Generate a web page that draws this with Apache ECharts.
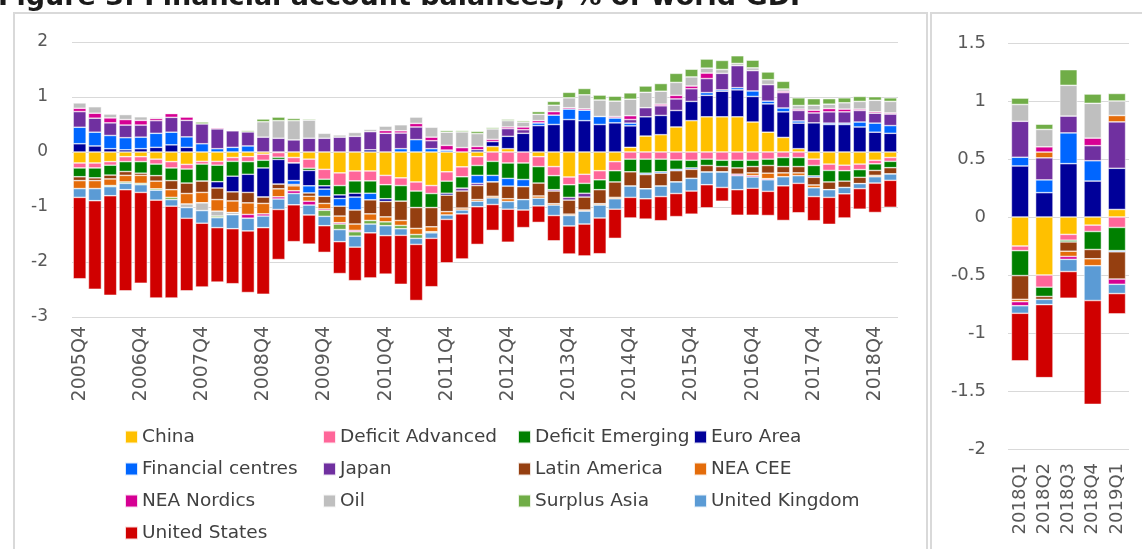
<!DOCTYPE html>
<html><head><meta charset="utf-8">
<script src="https://cdn.jsdelivr.net/npm/echarts@6/dist/echarts.min.js"></script>
<style>html,body{margin:0;padding:0;background:#fff}#c{width:1142px;height:549px}</style>
</head><body><div id="c"></div>
<script>
const quarters = ['2005Q4','2006Q1','2006Q2','2006Q3','2006Q4','2007Q1','2007Q2','2007Q3','2007Q4','2008Q1','2008Q2','2008Q3','2008Q4','2009Q1','2009Q2','2009Q3','2009Q4','2010Q1','2010Q2','2010Q3','2010Q4','2011Q1','2011Q2','2011Q3','2011Q4','2012Q1','2012Q2','2012Q3','2012Q4','2013Q1','2013Q2','2013Q3','2013Q4','2014Q1','2014Q2','2014Q3','2014Q4','2015Q1','2015Q2','2015Q3','2015Q4','2016Q1','2016Q2','2016Q3','2016Q4','2017Q1','2017Q2','2017Q3','2017Q4','2018Q1','2018Q2','2018Q3','2018Q4','2019Q1'];
const recentQuarters = ['2018Q1','2018Q2','2018Q3','2018Q4','2019Q1'];
const leftTicks = [-3,-2,-1,0,1,2];
const rightTicks = [-2,-1.5,-1,-0.5,0,0.5,1,1.5];

const china = [-0.20,-0.20,-0.175,-0.085,-0.085,-0.13,-0.175,-0.225,-0.17,-0.17,-0.10,-0.085,-0.04,-0.01,-0.10,-0.13,-0.315,-0.38,-0.345,-0.345,-0.425,-0.47,-0.545,-0.61,-0.36,-0.27,-0.085,0.10,0.06,0,-0.085,-0.265,-0.455,-0.405,-0.34,-0.175,0.085,0.29,0.315,0.455,0.57,0.64,0.64,0.64,0.545,0.36,0.265,0.06,-0.13,-0.22,-0.24,-0.22,-0.15,-0.10];
const deficitAdvanced = [-0.09,-0.09,-0.065,-0.09,-0.09,-0.09,-0.115,-0.085,-0.05,-0.07,-0.07,-0.09,-0.11,-0.085,-0.10,-0.165,-0.18,-0.23,-0.18,-0.18,-0.17,-0.14,-0.165,-0.145,-0.17,-0.18,-0.16,-0.17,-0.20,-0.20,-0.18,-0.165,-0.14,-0.165,-0.165,-0.165,-0.13,-0.13,-0.13,-0.145,-0.15,-0.13,-0.15,-0.15,-0.15,-0.13,-0.10,-0.10,-0.115,-0.115,-0.10,-0.10,-0.065,-0.07];
const deficitEmerging = [-0.16,-0.18,-0.18,-0.18,-0.21,-0.21,-0.23,-0.255,-0.31,-0.30,-0.27,-0.23,-0.14,-0.04,0,-0.04,-0.12,-0.17,-0.225,-0.225,-0.255,-0.285,-0.30,-0.255,-0.22,-0.21,-0.18,-0.255,-0.28,-0.30,-0.30,-0.255,-0.23,-0.18,-0.18,-0.205,-0.23,-0.255,-0.23,-0.17,-0.14,-0.115,-0.115,-0.14,-0.115,-0.115,-0.165,-0.165,-0.19,-0.21,-0.19,-0.14,-0.12,-0.115];
const euroArea = [0.15,0.11,0.06,0.04,0.06,0.085,0.13,0.085,0,-0.115,-0.285,-0.33,-0.53,-0.45,-0.32,-0.28,-0.06,-0.065,-0.07,0.04,-0.05,0,0,0,-0.035,0,0.04,0.09,0.225,0.34,0.48,0.50,0.59,0.57,0.50,0.53,0.39,0.35,0.35,0.30,0.35,0.39,0.465,0.49,0.465,0.515,0.465,0.465,0.53,0.50,0.50,0.455,0.36,0.34];
const financialCentres = [0.30,0.25,0.24,0.22,0.21,0.255,0.23,0.19,0.15,0.06,0.085,0.11,0,0,-0.07,-0.13,-0.13,-0.14,-0.235,-0.12,0,0.06,0.225,0.06,0.035,0,-0.145,-0.12,-0.14,-0.13,0.05,0.17,0.19,0.19,0.145,0.09,0.05,-0.025,-0.025,-0.025,-0.025,0.05,0.025,0.04,0.10,0.05,0.07,0.04,-0.025,0.025,0.025,0.09,0.165,0.14];
const japan = [0.285,0.255,0.23,0.23,0.22,0.23,0.27,0.30,0.36,0.36,0.30,0.255,0.27,0.25,0.22,0.25,0.25,0.27,0.285,0.33,0.34,0.285,0.23,0.145,0,-0.05,-0.04,0,0.14,0.065,0,-0.025,-0.05,-0.07,0,0,0.065,0.165,0.175,0.21,0.23,0.255,0.30,0.40,0.37,0.30,0.28,0.19,0.18,0.205,0.205,0.21,0.18,0.21];
const latinAmerica = [-0.07,-0.05,-0.07,-0.07,-0.04,-0.10,-0.165,-0.19,-0.205,-0.21,-0.165,-0.19,-0.115,-0.085,-0.025,-0.06,-0.13,-0.18,-0.255,-0.255,-0.28,-0.35,-0.38,-0.35,-0.30,-0.31,-0.255,-0.26,-0.23,-0.235,-0.235,-0.23,-0.255,-0.235,-0.255,-0.28,-0.26,-0.26,-0.235,-0.205,-0.165,-0.12,-0.10,-0.115,-0.115,-0.14,-0.115,-0.115,-0.14,-0.14,-0.115,-0.115,-0.09,-0.115];
const neaCee = [-0.145,-0.145,-0.12,-0.12,-0.145,-0.14,-0.14,-0.19,-0.19,-0.21,-0.21,-0.21,-0.19,-0.145,-0.09,-0.09,-0.10,-0.12,-0.115,-0.12,-0.09,-0.09,-0.11,-0.09,-0.06,-0.035,-0.03,-0.03,-0.05,0,-0.04,-0.025,-0.025,-0.02,-0.025,-0.025,0,0,0,0,0,0,0,0,-0.05,-0.10,-0.07,-0.05,-0.05,0,0,0,-0.025,0];
const neaNordics = [0.06,0.09,0.09,0.10,0.085,0.04,0.07,0.06,0,0.02,0,-0.07,-0.04,-0.04,-0.05,-0.07,-0.025,-0.025,-0.025,0,0.05,0.04,0.065,0.065,0.085,0.08,0.06,0.04,0.03,0.05,0.04,0.065,0.025,0.025,0,0.025,0.07,0,0.03,0.065,0.05,0.10,0,-0.025,-0.025,-0.02,0.025,0.025,0.05,0.06,0.05,0.025,0.025,0.02];
const oil = [0.10,0.12,0.07,0.09,0.065,0.02,0,-0.065,-0.14,-0.09,-0.04,0,0.28,0.32,0.35,0.33,0.09,0.04,0.07,0.04,0.08,0.11,0.115,0.18,0.24,0.285,0.235,0.19,0.115,0.09,0.115,0.115,0.18,0.255,0.30,0.28,0.30,0.28,0.235,0.235,0.165,0.09,0.07,0.04,0.05,0.09,0.04,0.065,0.09,0.08,0.115,0.14,0.21,0.21];
const surplusAsia = [0,0,-0.02,-0.025,-0.025,-0.025,-0.04,0,0.035,-0.03,0,0.025,0.05,0.065,0.04,0.02,-0.11,-0.10,-0.08,-0.065,-0.07,-0.06,-0.07,-0.02,0.03,0.025,0.04,0.025,0.025,0.025,0.05,0.07,0.10,0.115,0.09,0.09,0.115,0.115,0.14,0.165,0.14,0.165,0.165,0.14,0.14,0.14,0.14,0.14,0.12,0.10,0.09,0.09,0.065,0.065];
const unitedKingdom = [-0.16,-0.22,-0.165,-0.115,-0.14,-0.18,-0.12,-0.195,-0.23,-0.18,-0.255,-0.23,-0.21,-0.19,-0.205,-0.18,-0.17,-0.22,-0.20,-0.16,-0.18,-0.12,-0.11,-0.10,-0.08,-0.07,-0.10,-0.12,-0.14,-0.19,-0.14,-0.19,-0.19,-0.235,-0.235,-0.19,-0.205,-0.18,-0.19,-0.21,-0.23,-0.23,-0.28,-0.255,-0.205,-0.21,-0.165,-0.14,-0.16,-0.14,-0.115,-0.09,-0.115,-0.115];
const unitedStates = [-1.48,-1.61,-1.81,-1.84,-1.65,-1.78,-1.67,-1.32,-1.16,-0.99,-1.0,-1.12,-1.21,-0.91,-0.67,-0.53,-0.485,-0.58,-0.61,-0.82,-0.70,-0.89,-1.02,-0.88,-0.79,-0.82,-0.685,-0.47,-0.60,-0.32,-0.30,-0.46,-0.51,-0.58,-0.65,-0.53,-0.375,-0.37,-0.44,-0.42,-0.42,-0.42,-0.25,-0.465,-0.49,-0.44,-0.63,-0.535,-0.44,-0.49,-0.44,-0.375,-0.535,-0.49];

const chinaR = [-0.25,-0.50,-0.15,-0.07,0.065];
const deficitAdvancedR = [-0.04,-0.105,-0.05,-0.055,-0.09];
const deficitEmergingR = [-0.215,-0.08,-0.015,-0.155,-0.20];
const euroAreaR = [0.44,0.21,0.46,0.31,0.355];
const financialCentresR = [0.075,0.11,0.265,0.175,-0.01];
const japanR = [0.31,0.19,0.145,0.13,0.40];
const latinAmericaR = [-0.205,-0.025,-0.08,-0.08,-0.235];
const neaCeeR = [-0.02,0.05,-0.045,-0.06,0.055];
const neaNordicsR = [-0.035,0.045,-0.025,0.065,-0.045];
const oilR = [0.145,0.15,0.265,0.30,0.125];
const surplusAsiaR = [0.055,0.045,0.135,0.08,0.065];
const unitedKingdomR = [-0.065,-0.045,-0.105,-0.30,-0.08];
const unitedStatesR = [-0.41,-0.63,-0.23,-0.895,-0.175];

const seriesDefs = [
  ['China', '#FFC000', china, chinaR],
  ['Deficit Advanced', '#FF6699', deficitAdvanced, deficitAdvancedR],
  ['Deficit Emerging', '#008000', deficitEmerging, deficitEmergingR],
  ['Euro Area', '#000099', euroArea, euroAreaR],
  ['Financial centres', '#0066FF', financialCentres, financialCentresR],
  ['Japan', '#7030A0', japan, japanR],
  ['Latin America', '#953F10', latinAmerica, latinAmericaR],
  ['NEA CEE', '#E46C0A', neaCee, neaCeeR],
  ['NEA Nordics', '#D60093', neaNordics, neaNordicsR],
  ['Oil', '#BFBFBF', oil, oilR],
  ['Surplus Asia', '#70AD47', surplusAsia, surplusAsiaR],
  ['United Kingdom', '#5B9BD5', unitedKingdom, unitedKingdomR],
  ['United States', '#D00000', unitedStates, unitedStatesR]
];

const series = [];
seriesDefs.forEach(d => {
  series.push({name: d[0], type: 'bar', stack: 'L', xAxisIndex: 0, yAxisIndex: 0, data: d[2],
    barCategoryGap: '15%', itemStyle: {color: d[1], borderColor: 'rgba(255,255,255,0.85)', borderWidth: 0.6}});
});
seriesDefs.forEach(d => {
  series.push({name: d[0], type: 'bar', stack: 'R', xAxisIndex: 1, yAxisIndex: 1, data: d[3],
    barCategoryGap: '28%', itemStyle: {color: d[1], borderColor: 'rgba(255,255,255,0.85)', borderWidth: 0.6}});
});

const FONT = 'DejaVu Sans';
const legendCols = [
  [124, 427, ['China','Financial centres','NEA Nordics']],
  [124, 523, ['United States']],
  [322, 427, ['Deficit Advanced','Japan','Oil']],
  [517, 427, ['Deficit Emerging','Latin America','Surplus Asia']],
  [693, 427, ['Euro Area','NEA CEE','United Kingdom']]
];
const legends = legendCols.map(c => ({
  orient: 'vertical', left: c[0], top: c[1], height: 120, data: c[2], icon: 'rect',
  itemWidth: 13, itemHeight: 13, itemGap: 12, selectedMode: false, padding: 0,
  textStyle: {fontFamily: FONT, fontSize: 18.5, color: '#404040', lineHeight: 20, padding: [0,0,0,-1]}
}));

const chart = echarts.init(document.getElementById('c'), null, {renderer: 'canvas'});
chart.setOption({
  animation: false,
  backgroundColor: '#fff',
  graphic: [
    {type: 'text', left: -2, top: -16, style: {text: 'Figure 3: Financial account balances, % of world GDP', font: 'bold 27px "DejaVu Sans"', fill: '#1a1a1a'}},
    {type: 'rect', shape: {x: 14, y: 13, width: 913, height: 600}, style: {fill: 'none', stroke: '#d9d9d9', lineWidth: 2}},
    {type: 'rect', shape: {x: 931, y: 13, width: 400, height: 600}, style: {fill: 'none', stroke: '#d9d9d9', lineWidth: 2}}
  ],
  legend: legends,
  grid: [
    {left: 72, top: 42, width: 826, height: 275},
    {left: 1008, top: 43, width: 121, height: 406}
  ],
  xAxis: [
    {type: 'category', gridIndex: 0, data: quarters, axisLine: {show: false}, axisTick: {show: false},
      axisLabel: {interval: 3, rotate: 90, margin: 9, fontFamily: FONT, fontSize: 19, color: '#595959'}},
    {type: 'category', gridIndex: 1, data: recentQuarters, axisLine: {show: false}, axisTick: {show: false},
      axisLabel: {interval: 0, rotate: 90, margin: 14, fontFamily: FONT, fontSize: 18, color: '#595959'}}
  ],
  yAxis: [
    {type: 'value', gridIndex: 0, min: leftTicks[0], max: leftTicks[leftTicks.length-1], interval: 1,
      axisLine: {show: false}, axisTick: {show: false},
      splitLine: {lineStyle: {color: '#d9d9d9', width: 1}},
      axisLabel: {margin: 24, fontFamily: FONT, fontSize: 17, color: '#595959'}},
    {type: 'value', gridIndex: 1, min: rightTicks[0], max: rightTicks[rightTicks.length-1], interval: 0.5,
      axisLine: {show: false}, axisTick: {show: false},
      splitLine: {lineStyle: {color: '#d9d9d9', width: 1}},
      axisLabel: {margin: 22, fontFamily: FONT, fontSize: 18, color: '#595959'}}
  ],
  series: series
});
</script></body></html>
